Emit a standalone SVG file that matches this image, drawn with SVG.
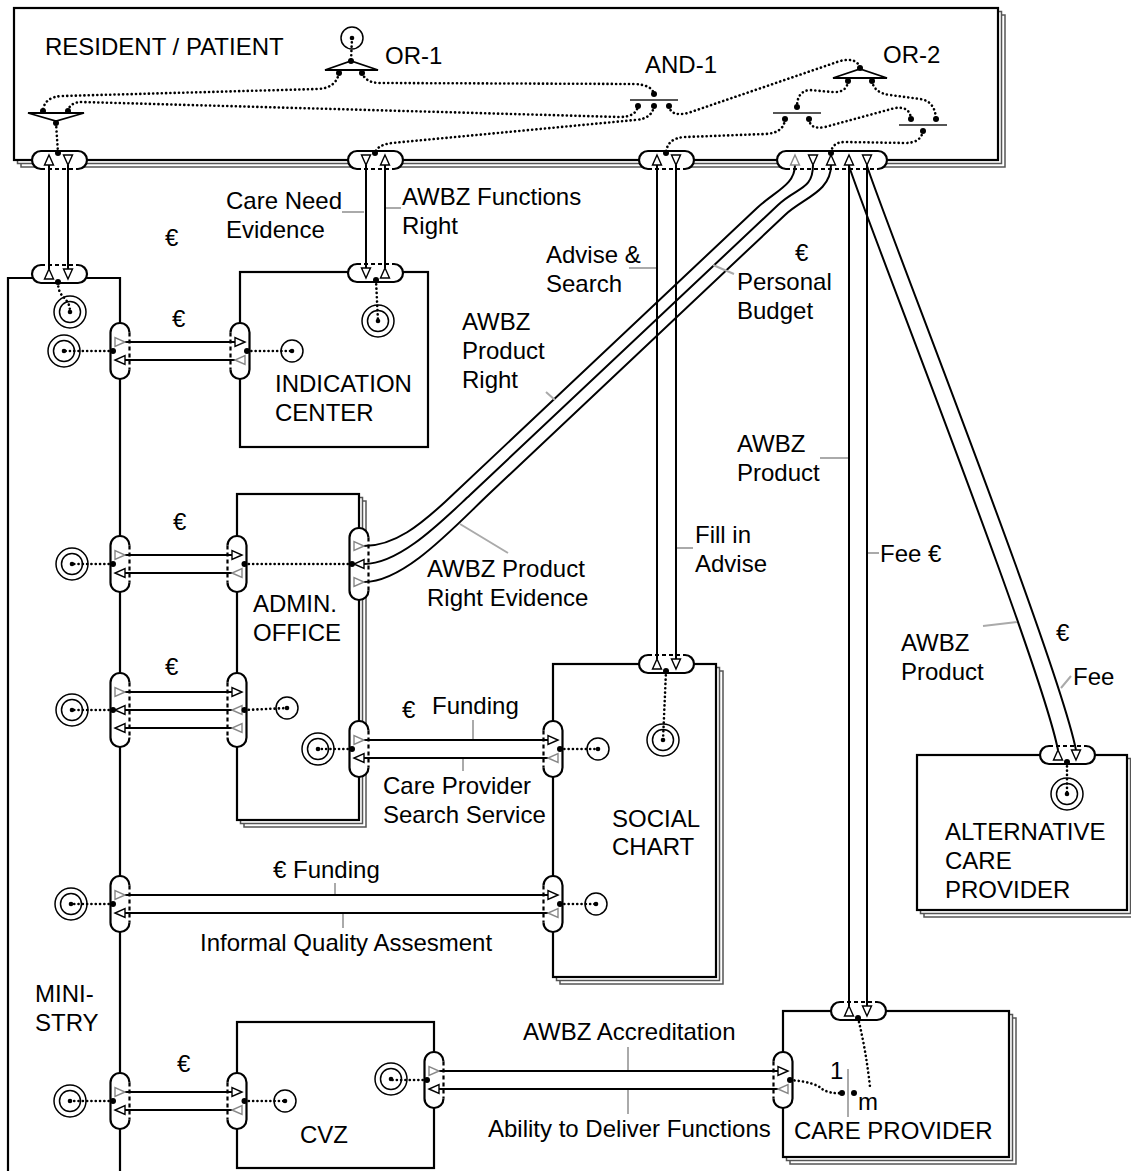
<svg xmlns="http://www.w3.org/2000/svg" width="1131" height="1171" viewBox="0 0 1131 1171">
<style>
text{font-family:"Liberation Sans",Arial,sans-serif;font-size:24px;fill:#000}
.box{fill:#fff;stroke:#000;stroke-width:2.2}
.sh{fill:#fff;stroke:#555;stroke-width:1.5}
.ln{fill:none;stroke:#000;stroke-width:2}
.dt{fill:none;stroke:#000;stroke-width:2.6;stroke-dasharray:0.1 4.2;stroke-linecap:round}
.ld{fill:none;stroke:#aaa;stroke-width:2}
.pf{fill:#fff;stroke:none}
.ps{fill:none;stroke:#000;stroke-width:2.2}
.pd{fill:none;stroke:#000;stroke-width:2.2;stroke-dasharray:4 3}
.tb{fill:#fff;stroke:#000;stroke-width:1.4}
.tg{fill:#fff;stroke:#888;stroke-width:1.4}
.jd{fill:#000}
.cr{fill:none;stroke:#000;stroke-width:1.5}
.gt{fill:#fff;stroke:#000;stroke-width:1.8}
.gl{fill:none;stroke:#555;stroke-width:2}
</style>
<defs>
<g id="hpB"><rect class="pf" width="55" height="18" rx="9"/><path class="ps" d="M9,18 A9,9 0 0 1 9,0 H46 A9,9 0 0 1 46,18"/><path class="pd" d="M9,18 H46"/></g>
<g id="hpB110"><rect class="pf" width="110" height="18" rx="9"/><path class="ps" d="M9,18 A9,9 0 0 1 9,0 H101 A9,9 0 0 1 101,18"/><path class="pd" d="M9,18 H101"/></g>
<g id="hpT"><rect class="pf" width="55" height="18" rx="9"/><path class="ps" d="M9,0 A9,9 0 0 0 9,18 H46 A9,9 0 0 0 46,0"/><path class="pd" d="M9,0 H46"/></g>
<g id="vpR"><rect class="pf" width="19" height="56" rx="9.5"/><path class="ps" d="M19,9.5 A9.5,9.5 0 0 0 0,9.5 V46.5 A9.5,9.5 0 0 0 19,46.5"/><path class="pd" d="M19,9.5 V46.5"/></g>
<g id="vpL"><rect class="pf" width="19" height="56" rx="9.5"/><path class="ps" d="M0,9.5 A9.5,9.5 0 0 1 19,9.5 V46.5 A9.5,9.5 0 0 1 0,46.5"/><path class="pd" d="M0,9.5 V46.5"/></g>
<g id="vpR74"><rect class="pf" width="19" height="74" rx="9.5"/><path class="ps" d="M19,9.5 A9.5,9.5 0 0 0 0,9.5 V64.5 A9.5,9.5 0 0 0 19,64.5"/><path class="pd" d="M19,9.5 V64.5"/></g>
<g id="vpL74"><rect class="pf" width="19" height="74" rx="9.5"/><path class="ps" d="M0,9.5 A9.5,9.5 0 0 1 19,9.5 V64.5 A9.5,9.5 0 0 1 0,64.5"/><path class="pd" d="M0,9.5 V64.5"/></g>
<g id="vpR72"><rect class="pf" width="19" height="72" rx="9.5"/><path class="ps" d="M19,9.5 A9.5,9.5 0 0 0 0,9.5 V62.5 A9.5,9.5 0 0 0 19,62.5"/><path class="pd" d="M19,9.5 V62.5"/></g>
<path id="tU" d="M0,-5 L4.5,5 L-4.5,5 Z"/>
<path id="tD" d="M0,5 L4.5,-5 L-4.5,-5 Z"/>
<path id="tR" d="M5,0 L-5,4.5 L-5,-4.5 Z"/>
<path id="tL" d="M-5,0 L5,4.5 L5,-4.5 Z"/>
<g id="dc"><circle class="cr" r="16"/><circle class="cr" r="10.5"/><circle class="jd" r="2.3"/></g>
<g id="sc"><circle class="cr" r="11"/><circle class="jd" r="2.3"/></g>
</defs>

<g id="resident">
<rect class="sh" x="21" y="15" width="984" height="152"/>
<rect class="sh" x="17.5" y="11.5" width="984" height="152"/>
<rect class="box" x="14" y="8" width="984" height="152"/>
<text x="45" y="55">RESIDENT / PATIENT</text>
<text x="385" y="64">OR-1</text>
<text x="645" y="73">AND-1</text>
<text x="883" y="63">OR-2</text>
<use href="#hpB" x="32" y="151"/>
<use href="#hpB" x="348" y="151"/>
<use href="#hpB" x="639" y="151"/>
<use href="#hpB110" x="777" y="151"/>
</g>

<g id="ministry">
<path class="box" d="M8,1190 V278 H120 V1190"/>
<text x="35" y="1002">MINI-</text>
<text x="35" y="1031">STRY</text>
<use href="#hpT" x="32" y="265"/>
<use href="#vpR" x="110.5" y="323"/>
<use href="#vpR" x="110.5" y="536"/>
<use href="#vpR74" x="110.5" y="673"/>
<use href="#vpR" x="110.5" y="876"/>
<use href="#vpR" x="110.5" y="1073"/>
</g>

<g id="indication-center">
<rect class="box" x="240" y="272" width="188" height="175"/>
<text x="275" y="392">INDICATION</text>
<text x="275" y="421">CENTER</text>
<use href="#hpT" x="348" y="264"/>
<use href="#vpL" x="230.5" y="323"/>
</g>

<g id="admin-office">
<rect class="sh" x="244" y="501" width="122" height="326"/>
<rect class="sh" x="240.5" y="497.5" width="122" height="326"/>
<rect class="box" x="237" y="494" width="122" height="326"/>
<text x="253" y="612">ADMIN.</text>
<text x="253" y="641">OFFICE</text>
<use href="#vpL" x="227.5" y="536"/>
<use href="#vpL74" x="227.5" y="673"/>
<use href="#vpR72" x="349.5" y="528"/>
<use href="#vpR" x="349.5" y="721"/>
</g>

<g id="social-chart">
<rect class="sh" x="560" y="671" width="163" height="313"/>
<rect class="sh" x="556.5" y="667.5" width="163" height="313"/>
<rect class="box" x="553" y="664" width="163" height="313"/>
<text x="612" y="827">SOCIAL</text>
<text x="612" y="855">CHART</text>
<use href="#hpT" x="639" y="655"/>
<use href="#vpL" x="543.5" y="721"/>
<use href="#vpL" x="543.5" y="876"/>
</g>

<g id="alternative-care-provider">
<rect class="sh" x="924" y="762" width="210" height="155"/>
<rect class="sh" x="920.5" y="758.5" width="210" height="155"/>
<rect class="box" x="917" y="755" width="210" height="155"/>
<text x="945" y="840">ALTERNATIVE</text>
<text x="945" y="869">CARE</text>
<text x="945" y="898">PROVIDER</text>
<use href="#hpT" x="1040" y="746"/>
</g>

<g id="care-provider">
<rect class="sh" x="790" y="1018" width="226" height="146"/>
<rect class="sh" x="786.5" y="1014.5" width="226" height="146"/>
<rect class="box" x="783" y="1011" width="226" height="146"/>
<text x="794" y="1139">CARE PROVIDER</text>
<text x="830" y="1079">1</text>
<text x="858" y="1110">m</text>
<use href="#hpT" x="831" y="1002"/>
<use href="#vpL" x="773.5" y="1052"/>
</g>

<g id="cvz">
<rect class="box" x="237" y="1022" width="197" height="146"/>
<text x="300" y="1143">CVZ</text>
<use href="#vpL" x="227.5" y="1073"/>
<use href="#vpR" x="424.5" y="1052"/>
</g>

<g id="connectors">
<path class="ln" d="M49,165 V269 M68,165 V269"/>
<path class="ln" d="M366,165 V268 M385,165 V268"/>
<path class="ln" d="M657,165 V659 M676,165 V659"/>
<path class="ln" d="M849,165 V1006 M867,165 V1006"/>
<path class="ln" d="M849,166 C870,230 1040,660 1058,750"/>
<path class="ln" d="M867,166 C888,230 1058,660 1076,750"/>
<path class="ln" d="M364,546 C395,546 421,524 445,502 L757,208 C775,191 795,185 795,165"/>
<path class="ln" d="M364,564 C400,564 442,521 470,495 L778,205 C797,187 813,190 813,165"/>
<path class="ln" d="M364,582 C405,582 455,526 490,493 L785,215 C803,198 831,192 831,165"/>
<path class="ln" d="M125,342 H235 M125,360 H235"/>
<path class="ln" d="M125,555 H232 M125,573 H232"/>
<path class="ln" d="M125,692 H232 M125,710 H232 M125,728 H232"/>
<path class="ln" d="M364,740 H548 M364,758 H548"/>
<path class="ln" d="M125,895 H548 M125,913 H548"/>
<path class="ln" d="M125,1092 H232 M125,1110 H232"/>
<path class="ln" d="M439,1071 H778 M439,1089 H778"/>

<use href="#tU" class="tb" x="49" y="160"/><use href="#tD" class="tb" x="68" y="160"/>
<use href="#tU" class="tb" x="49" y="274"/><use href="#tD" class="tb" x="68" y="274"/>
<use href="#tD" class="tb" x="366" y="160"/><use href="#tU" class="tb" x="385" y="160"/>
<use href="#tD" class="tb" x="366" y="273"/><use href="#tU" class="tb" x="385" y="273"/>
<use href="#tU" class="tb" x="657" y="160"/><use href="#tD" class="tb" x="676" y="160"/>
<use href="#tU" class="tb" x="657" y="664"/><use href="#tD" class="tb" x="676" y="664"/>
<use href="#tU" class="tg" x="795" y="160"/><use href="#tD" class="tb" x="813" y="160"/><use href="#tU" class="tb" x="831" y="160"/><use href="#tU" class="tb" x="849" y="160"/><use href="#tD" class="tb" x="867" y="160"/>
<use href="#tU" class="tb" x="849" y="1011"/><use href="#tD" class="tb" x="867" y="1011"/>
<use href="#tU" class="tb" x="1058" y="755"/><use href="#tD" class="tb" x="1076" y="755"/>
<use href="#tR" class="tg" x="120" y="342"/><use href="#tL" class="tb" x="120" y="360"/>
<use href="#tR" class="tb" x="240" y="342"/><use href="#tL" class="tg" x="240" y="360"/>
<use href="#tR" class="tg" x="120" y="555"/><use href="#tL" class="tb" x="120" y="573"/>
<use href="#tR" class="tb" x="237" y="555"/><use href="#tL" class="tg" x="237" y="573"/>
<use href="#tR" class="tg" x="120" y="692"/><use href="#tL" class="tb" x="120" y="710"/><use href="#tL" class="tb" x="120" y="728"/>
<use href="#tR" class="tb" x="237" y="692"/><use href="#tL" class="tg" x="237" y="710"/><use href="#tL" class="tg" x="237" y="728"/>
<use href="#tR" class="tg" x="359" y="546"/><use href="#tL" class="tb" x="359" y="564"/><use href="#tR" class="tg" x="359" y="582"/>
<use href="#tR" class="tg" x="359" y="740"/><use href="#tL" class="tb" x="359" y="758"/>
<use href="#tR" class="tb" x="553" y="740"/><use href="#tL" class="tg" x="553" y="758"/>
<use href="#tR" class="tg" x="120" y="895"/><use href="#tL" class="tb" x="120" y="913"/>
<use href="#tR" class="tb" x="553" y="895"/><use href="#tL" class="tg" x="553" y="913"/>
<use href="#tR" class="tg" x="120" y="1092"/><use href="#tL" class="tb" x="120" y="1110"/>
<use href="#tR" class="tb" x="237" y="1092"/><use href="#tL" class="tg" x="237" y="1110"/>
<use href="#tR" class="tg" x="434" y="1071"/><use href="#tL" class="tb" x="434" y="1089"/>
<use href="#tR" class="tb" x="783" y="1071"/><use href="#tL" class="tg" x="783" y="1089"/>

<path class="gt" d="M28,113 L84,113 L56,121 Z"/>
<path class="gt" d="M325,70 L378,70 L351,61 Z"/>
<path class="gt" d="M833,78 L887,78 L860,69 Z"/>
<path class="gl" d="M630,100 H678 M773,113 H821 M899,125 H947"/>
<path class="ld" d="M848,1069 V1117"/>

<path class="dt" d="M58,153 L56,123"/>
<path class="dt" d="M339,73 Q336,88 318,89 L62,96 Q44,97 43,111"/>
<path class="dt" d="M68,111 Q70,102 82,102 L620,117 Q636,117 638,106"/>
<path class="dt" d="M362,73 Q366,83 380,83 L635,84 Q652,85 654,94"/>
<path class="dt" d="M654,106 Q652,119 635,120 L392,143 Q377,145 375,153"/>
<path class="dt" d="M669,106 Q671,117 688,113 L840,61 Q857,57 860,68"/>
<path class="dt" d="M352,38 L351,61"/>
<path class="dt" d="M848,81 Q847,93 832,92 L810,90 Q797,91 797,107"/>
<path class="dt" d="M785,119 Q784,133 765,134 L685,137 Q667,138 666,153"/>
<path class="dt" d="M809,119 Q810,130 825,127 L895,108 Q910,106 911,119"/>
<path class="dt" d="M872,81 Q874,93 890,95 L920,99 Q935,101 936,119"/>
<path class="dt" d="M923,131 Q921,143 905,143 L845,142 Q832,142 831,153"/>
<path class="dt" d="M58,282 C58,300 70,296 70,312"/>
<path class="dt" d="M113,351 H64 M247,351 H292"/>
<path class="dt" d="M376,280 L378,321"/>
<path class="dt" d="M113,564 H72 M244.5,564 H352"/>
<path class="dt" d="M113,710 H72 M244.5,710 L287,708"/>
<path class="dt" d="M352,749 H318 M560,749 H598"/>
<path class="dt" d="M666,671 L663,740"/>
<path class="dt" d="M113,904 H71 M560,904 H596"/>
<path class="dt" d="M113,1101 H70 M244.5,1101 H285"/>
<path class="dt" d="M427,1080 H391"/>
<path class="dt" d="M790,1080 Q815,1082 822,1089 Q830,1094 842,1093"/>
<path class="dt" d="M858,1018 Q866,1050 870,1087"/>
<path class="dt" d="M1067,762 L1067,794"/>

<g class="jd">
<circle cx="58" cy="153" r="3"/><circle cx="375" cy="153" r="3"/><circle cx="666" cy="153" r="3"/><circle cx="831" cy="153" r="3"/>
<circle cx="56" cy="123" r="3"/><circle cx="43" cy="111" r="3"/><circle cx="68" cy="111" r="3"/>
<circle cx="351" cy="61" r="3"/><circle cx="339" cy="73" r="3"/><circle cx="362" cy="73" r="3"/>
<circle cx="654" cy="94" r="3"/><circle cx="638" cy="106" r="3"/><circle cx="654" cy="106" r="3"/><circle cx="669" cy="106" r="3"/>
<circle cx="860" cy="68" r="3"/><circle cx="848" cy="81" r="3"/><circle cx="872" cy="81" r="3"/>
<circle cx="797" cy="107" r="3"/><circle cx="785" cy="119" r="3"/><circle cx="809" cy="119" r="3"/>
<circle cx="911" cy="119" r="3"/><circle cx="936" cy="119" r="3"/><circle cx="923" cy="131" r="3"/>
<circle cx="58" cy="282" r="3"/><circle cx="376" cy="280" r="3"/><circle cx="666" cy="671" r="3"/><circle cx="1067" cy="762" r="3"/><circle cx="858" cy="1018" r="3"/>
<circle cx="113" cy="351" r="3"/><circle cx="247" cy="351" r="3"/>
<circle cx="113" cy="564" r="3"/><circle cx="244.5" cy="564" r="3"/><circle cx="352" cy="564" r="3"/>
<circle cx="113" cy="710" r="3"/><circle cx="244.5" cy="710" r="3"/>
<circle cx="352" cy="749" r="3"/><circle cx="560" cy="749" r="3"/>
<circle cx="113" cy="904" r="3"/><circle cx="560" cy="904" r="3"/>
<circle cx="113" cy="1101" r="3"/><circle cx="244.5" cy="1101" r="3"/>
<circle cx="427" cy="1080" r="3"/><circle cx="790" cy="1080" r="3"/>
<circle cx="842" cy="1093" r="3"/><circle cx="854" cy="1093" r="3"/>
</g>

<use href="#sc" x="352" y="38"/>
<use href="#dc" x="70" y="312"/>
<use href="#dc" x="64" y="351"/>
<use href="#dc" x="378" y="321"/>
<use href="#dc" x="72" y="564"/>
<use href="#dc" x="72" y="710"/>
<use href="#dc" x="318" y="749"/>
<use href="#dc" x="663" y="740"/>
<use href="#dc" x="71" y="904"/>
<use href="#dc" x="70" y="1101"/>
<use href="#dc" x="391" y="1079"/>
<use href="#dc" x="1067" y="794"/>
<use href="#sc" x="292" y="351"/>
<use href="#sc" x="287" y="708"/>
<use href="#sc" x="598" y="749"/>
<use href="#sc" x="596" y="904"/>
<use href="#sc" x="285" y="1101"/>

<path class="ld" d="M342,212 H364 M386,208 H401 M629,268 H656 M713,265 L734,274 M546,392 L555,400 M460,524 L508,553 M820,458 H848 M868,553 H879 M677,548 H693 M473,720 V739 M463,759 V771 M335,883 V894 M343,914 V928 M628,1047 V1070 M628,1090 V1114 M983,626 L1017,622 M1061,688 L1071,676"/>

<text x="226" y="209">Care Need</text>
<text x="226" y="238">Evidence</text>
<text x="402" y="205">AWBZ Functions</text>
<text x="402" y="234">Right</text>
<text x="165" y="246">€</text>
<text x="546" y="263">Advise &amp;</text>
<text x="546" y="292">Search</text>
<text x="795" y="261">€</text>
<text x="737" y="290">Personal</text>
<text x="737" y="319">Budget</text>
<text x="462" y="330">AWBZ</text>
<text x="462" y="359">Product</text>
<text x="462" y="388">Right</text>
<text x="172" y="327">€</text>
<text x="737" y="452">AWBZ</text>
<text x="737" y="481">Product</text>
<text x="173" y="530">€</text>
<text x="695" y="543">Fill in</text>
<text x="695" y="572">Advise</text>
<text x="880" y="562">Fee €</text>
<text x="427" y="577">AWBZ Product</text>
<text x="427" y="606">Right Evidence</text>
<text x="901" y="651">AWBZ</text>
<text x="901" y="680">Product</text>
<text x="1056" y="641">€</text>
<text x="1073" y="685">Fee</text>
<text x="165" y="675">€</text>
<text x="402" y="718">€</text>
<text x="432" y="714">Funding</text>
<text x="383" y="794">Care Provider</text>
<text x="383" y="823">Search Service</text>
<text x="273" y="878">€ Funding</text>
<text x="200" y="951">Informal Quality Assesment</text>
<text x="523" y="1040">AWBZ Accreditation</text>
<text x="177" y="1072">€</text>
<text x="488" y="1137">Ability to Deliver Functions</text>
</g>
</svg>
